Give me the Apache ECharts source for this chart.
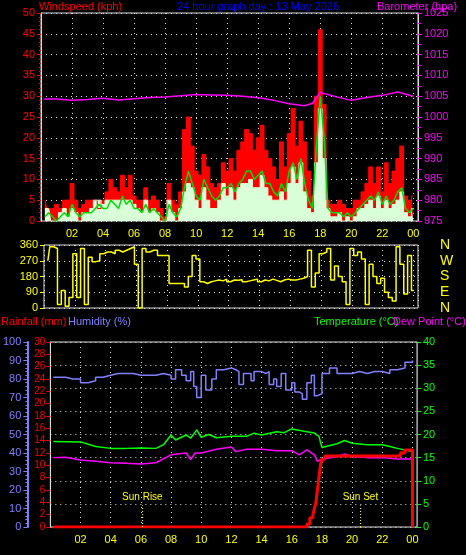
<!DOCTYPE html>
<html><head><meta charset="utf-8">
<script src="https://cdn.jsdelivr.net/npm/echarts@6/dist/echarts.min.js"></script>
<style>html,body{margin:0;background:#000}#c{width:466px;height:555px}</style>
</head><body><div id="c"></div>
<script>
// wind (kph) at 15-minute steps starting 00:15
const gust=[5,3,3,4, 3,5,5,9, 5,3,4,5, 5,5,3,5, 7,10,8,7, 11,8,11,6, 5,5,8,5, 6,5,3,1, 9,5,4,7, 22,25,18,12, 11,16,13,9, 8,9,14,12, 15,12,17,19, 22,21,17,20, 23,17,15,13, 10,19,13,21, 27,18,24,19, 12,6,30,46, 28,5,4,4, 5,4,3,3, 5,5,7,9, 13,9,13,7, 14,9,12,15, 18,6,5,6];
const avgWind=[1,2,1,0, 1,2,1,4, 2,1,2,2, 2,3,4,3, 3,5,4,3, 6,4,5,3, 3,2,4,2, 3,2,1,0, 4,2,1,3, 8,12,9,6, 5,10,8,6, 5,6,8,8, 9,7,9,10, 12,12,10,11, 12,9,9,7, 6,9,7,12, 14,10,15,9, 5,3,18,30, 20,3,2,2, 2,1,2,1, 2,3,4,5, 6,5,7,4, 6,4,5,7, 8,3,2,3];
const windSpd=[3,3,0,0, 2,3,1,3, 2,0,2,2, 3,5,5,4, 5,5,5,5, 5,5,5,4, 3,2,5,2, 3,2,0,0, 5,2,0,3, 7,9,8,5, 3,8,5,3, 3,5,9,6, 8,5,8,9, 9,10,8,8, 11,8,6,5, 5,7,5,9, 13,9,14,7, 3,2,14,27, 15,3,1,1, 2,0,1,0, 1,3,3,4, 5,3,6,3, 5,3,4,5, 7,2,1,3];
const dir=[270,350,340,20, 100,10,60,310, 60,340,20,290, 265,270,310,320, 320,310,330,320, 330,340,350,250, 0,340,320,330, 330,300,300,300, 140,140,140,140, 120,180,300,280, 150,140,150,155, 160,155,165,150, 160,158,162,150, 155,160,165,150, 160,155,165,158, 150,160,165,160, 160,165,170,180, 330,120,200,310, 320,340,160,240, 180,150,20,340, 300,320,280,20, 250,180,140,170, 90,60,40,350, 250,80,300,100];
const baroT=[0.2,1,2,3,4,5,6,7,8,9,10,11,12,13,14,15,16,17,17.5,18,19,20,21,22,23,24];
const baro=[1004.3,1004.3,1004.0,1004.2,1004.5,1004.1,1004.4,1004.7,1004.8,1005.1,1005.4,1005.3,1005.2,1005.0,1004.6,1004.0,1003.2,1002.7,1003.3,1005.9,1004.9,1004.0,1004.7,1005.2,1006.0,1005.0];
const humT=[0.2,1,1.5,2,2.5,3,3.5,4,4.5,5,5.5,6,6.5,7,7.5,8,8.3,8.7,9,9.3,9.5,9.7,10,10.3,10.7,11,11.5,12,12.3,12.5,12.8,13,13.3,13.5,14,14.3,14.5,14.8,15,15.3,15.6,16,16.2,16.5,16.7,17,17.3,17.5,17.7,18,18.5,19,19.5,20,20.5,21,21.5,22,22.5,23,23.5,24];
const hum=[81,80,80,78,79,81,82,83,83,83,82,82,82,83,82,80,85,82,79,84,76,70,82,74,80,85,86,85,84,77,83,83,79,84,83,84,77,80,76,83,74,78,73,72,69,78,82,71,72,83,86,83,83,84,83,84,84,83,85,86,89,90];
const tempT=[0.2,2,3,4,5,6,7,7.5,8,8.3,9,9.3,9.7,10,10.5,11,12,13,13.5,14,15,15.5,16,17,17.5,17.8,18,19,19.5,20,21,22,22.5,23,24];
const temp=[18.5,18.4,17.4,17.0,17.0,17.1,17.0,17.8,19.9,18.8,19.9,19.2,21.0,19.4,20.0,19.3,19.6,19.6,20.3,19.9,20.6,20.4,21.2,20.6,20.3,19.6,17.2,18.0,18.7,18.1,17.8,17.8,17.4,17.0,16.3];
const dewT=[0.2,1,2,3,4,5,6,7,8,9,9.3,9.6,10,11,12,12.3,13,14,15,16,16.5,17,17.5,17.7,18,19,19.5,20,21,22,23,24];
const dew=[15.0,15.1,14.5,14.2,13.9,13.8,13.6,13.9,15.6,16.0,14.6,16.0,16.0,16.8,17.3,16.3,16.8,16.8,16.5,16.5,15.6,16.7,15.6,14.2,14.7,15.2,15.8,15.2,15.0,15.0,14.7,14.7];
const rainT=[0.2,16.8,17.0,17.2,17.4,17.5,17.6,17.7,17.8,17.9,18.0,18.2,23.0,23.2,23.5,24.0,24.0];
const rain=[0,0,0.5,1.5,2,3,4,6,8,10,11,11.5,11.5,12,12.5,12.5,0];
const hourTicks=[2,4,6,8,10,12,14,16,18,20,22,24];
const dirNames={0:'N',90:'E',180:'S',270:'W',360:'N'};
const sunRise=6.1, sunSet=20.55;

const q=(i)=>(i+1)*0.25;
const pair=(t,v)=>v.map((y,i)=>[t[i],y]);
const F='Liberation Sans';
const dots={show:true,lineStyle:{color:'#ddd',type:[1,4],width:1}};
const xl=(show)=>({show:show,color:'#ffff00',fontSize:11,fontFamily:F,margin:7,showMinLabel:false,showMaxLabel:false,
  formatter:v=>hourTicks.indexOf(v)>=0?String(v%24).padStart(2,'0'):''});
function xAx(g,show){return {type:'value',gridIndex:g,min:0,max:24.3,interval:2,axisLine:{show:false},axisTick:{show:false},splitLine:dots,axisLabel:xl(show)};}
const chart=echarts.init(document.getElementById('c'));
const mkSun=(x,name)=>({silent:true,symbol:'none',label:{show:true,position:'end',formatter:name,color:'#ffff00',fontSize:10,fontFamily:F,distance:3},
  lineStyle:{color:'#ffff00',type:[1,2],width:1},data:[[{coord:[x,0]},{coord:[x,3.5]}]]});
const ts=(c)=>({color:c,fontSize:11,fontWeight:'normal',fontFamily:F});
chart.setOption({
  backgroundColor:'#000',animation:false,
  title:[
    {text:'Windspeed (kph)',left:34,top:-4,textStyle:ts('#ff0000')},
    {text:'24 hour graph day : 13 May 2026',left:172,top:-4,textStyle:ts('#0000ff')},
    {text:'Barometer (hpa)',left:372,top:-4,textStyle:ts('#ff00ff')},
    {text:'Rainfall (mm)',left:-4,top:311,textStyle:ts('#ff0000')},
    {text:'Humidity (%)',left:63,top:311,textStyle:ts('#8080ff')},
    {text:'Temperature (°C)',left:309,top:311,textStyle:ts('#00ff00')},
    {text:'Dew Point (°C)',left:388,top:311,textStyle:ts('#ff00ff')}
  ],
  grid:[
    {left:41,top:13,width:377,height:208,show:true,borderColor:'#ddd',borderWidth:1},
    {left:44,top:245,width:374,height:63,show:true,borderColor:'#ddd',borderWidth:1},
    {left:45,top:342,width:372,height:185,show:true,borderColor:'#ddd',borderWidth:1}
  ],
  xAxis:[xAx(0,true),xAx(1,false),xAx(2,true)],
  yAxis:[
    {type:'value',gridIndex:0,min:0,max:50,interval:5,position:'left',axisLine:{show:true,lineStyle:{color:'#ddd'}},
     axisTick:{show:true,length:4,lineStyle:{color:'#ff0000'}},minorTick:{show:true,splitNumber:5,length:2,lineStyle:{color:'#ff0000'}},
     axisLabel:{color:'#ff0000',fontSize:11,fontFamily:F,margin:6},splitLine:dots},
    {type:'value',gridIndex:0,min:975,max:1025,interval:5,position:'right',axisLine:{show:true,lineStyle:{color:'#ddd'}},
     axisTick:{show:true,length:4,lineStyle:{color:'#ff00ff'}},minorTick:{show:true,splitNumber:2,length:3,lineStyle:{color:'#ff00ff'}},
     axisLabel:{color:'#ff00ff',fontSize:11,fontFamily:F,margin:6,formatter:v=>String(v)},splitLine:{show:false}},
    {type:'value',gridIndex:1,min:0,max:360,interval:90,position:'left',axisLine:{show:false},
     axisTick:{show:true,length:4,lineStyle:{color:'#ffff00'}},axisLabel:{color:'#ffff00',fontSize:11,fontFamily:F,margin:6},splitLine:dots},
    {type:'value',gridIndex:1,min:0,max:360,interval:90,position:'right',offset:14,axisLine:{show:false},axisTick:{show:false},
     axisLabel:{color:'#ffff00',fontSize:14,fontFamily:F,formatter:v=>dirNames[v]},splitLine:{show:false}},
    {type:'value',gridIndex:2,min:0,max:30,interval:2,position:'left',axisLine:{show:true,lineStyle:{color:'#ddd'}},
     axisTick:{show:true,length:4,lineStyle:{color:'#ff0000'}},axisLabel:{color:'#ff0000',fontSize:10,fontFamily:F,margin:5},splitLine:{show:false}},
    {type:'value',gridIndex:2,min:0,max:100,interval:10,position:'left',offset:23,axisLine:{show:true,lineStyle:{color:'#8080ff',width:2}},
     axisTick:{show:true,length:4,lineStyle:{color:'#8080ff'}},minorTick:{show:true,splitNumber:5,length:2,lineStyle:{color:'#8080ff'}},
     axisLabel:{color:'#8080ff',fontSize:11,fontFamily:F,margin:6},splitLine:{show:false}},
    {type:'value',gridIndex:2,min:0,max:40,interval:5,position:'right',axisLine:{show:true,lineStyle:{color:'#00ff00'}},
     axisTick:{show:true,length:4,lineStyle:{color:'#00ff00'}},axisLabel:{color:'#00ff00',fontSize:11,fontFamily:F,margin:6},splitLine:dots}
  ],
  series:[
    {type:'line',xAxisIndex:0,yAxisIndex:0,step:'middle',symbol:'none',data:gust.map((v,i)=>[q(i),v]),lineStyle:{color:'#ff0000',width:1},areaStyle:{color:'#ff0000',opacity:1}},
    {type:'line',xAxisIndex:0,yAxisIndex:0,step:'middle',symbol:'none',data:windSpd.map((v,i)=>[q(i),v]),lineStyle:{color:'#d8ffd8',width:1},areaStyle:{color:'#d8ffd8',opacity:1}},
    {type:'line',xAxisIndex:0,yAxisIndex:0,symbol:'none',data:avgWind.map((v,i)=>[q(i),v]),lineStyle:{color:'#00dd00',width:1.5}},
    {type:'line',xAxisIndex:0,yAxisIndex:1,symbol:'none',data:pair(baroT,baro),lineStyle:{color:'#ff00ff',width:1.5}},
    {type:'line',xAxisIndex:1,yAxisIndex:2,step:'middle',symbol:'none',data:dir.map((v,i)=>[q(i),v]),lineStyle:{color:'#ffff00',width:1.5}},
    {type:'line',xAxisIndex:2,yAxisIndex:5,step:'end',symbol:'none',data:pair(humT,hum),lineStyle:{color:'#8080ff',width:1.5}},
    {type:'line',xAxisIndex:2,yAxisIndex:6,symbol:'none',data:pair(tempT,temp),lineStyle:{color:'#00ff00',width:1.5}},
    {type:'line',xAxisIndex:2,yAxisIndex:6,symbol:'none',data:pair(dewT,dew),lineStyle:{color:'#ff00ff',width:1.5}},
    {type:'line',xAxisIndex:2,yAxisIndex:4,step:'end',symbol:'none',data:pair(rainT,rain),lineStyle:{color:'#ff0000',width:3}},
    {type:'line',xAxisIndex:2,yAxisIndex:4,symbol:'none',data:[],markLine:mkSun(sunRise,'Sun Rise')},
    {type:'line',xAxisIndex:2,yAxisIndex:4,symbol:'none',data:[],markLine:mkSun(sunSet,'Sun Set')}
  ]
});
</script></body></html>
